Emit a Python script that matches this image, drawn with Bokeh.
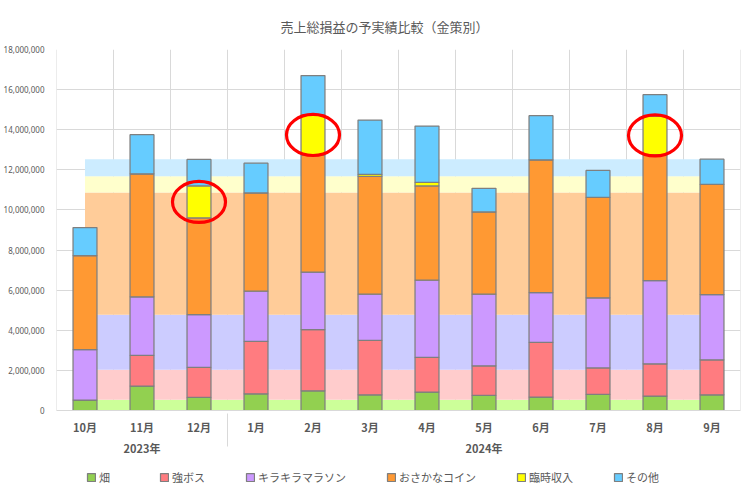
from bokeh.plotting import figure
from bokeh.layouts import column
from bokeh.models import (FactorRange, Range1d, ColumnDataSource, NumeralTickFormatter,
                          SingleIntervalTicker, Span, Legend, LegendItem)
from bokeh.embed import file_html
from bokeh.resources import INLINE

title = "売上総損益の予実績比較（金策別）"
years = ["2023年"] * 3 + ["2024年"] * 9
months = ["10月", "11月", "12月", "1月", "2月", "3月", "4月", "5月", "6月", "7月", "8月", "9月"]
series = ["畑", "強ボス", "キラキラマラソン", "おさかなコイン", "臨時収入", "その他"]

hatake   = [520000, 1220000, 650000, 830000, 980000, 780000, 920000, 750000, 670000, 800000, 720000, 780000]
kyoboss  = [0, 1530000, 1500000, 2620000, 3050000, 2720000, 1730000, 1480000, 2730000, 1320000, 1610000, 1750000]
kirakira = [2510000, 2920000, 2630000, 2500000, 2870000, 2300000, 3850000, 3570000, 2480000, 3500000, 4140000, 3250000]
osakana  = [4690000, 6130000, 4820000, 4900000, 5850000, 5880000, 4700000, 4100000, 6620000, 5010000, 6280000, 5490000]
rinji    = [0, 0, 1600000, 0, 1980000, 90000, 170000, 0, 0, 0, 1930000, 0]
sonota   = [1400000, 1950000, 1320000, 1480000, 1970000, 2710000, 2810000, 1180000, 2200000, 1340000, 1070000, 1260000]

# plan (予算) per series, same every month
plan = [530000, 1500000, 2740000, 6100000, 810000, 850000]

highlight = ["12月", "2月", "8月"]

bar_colors = ["#92D050", "#FF7C80", "#CC99FF", "#FF9933", "#FFFF00", "#66CCFF"]
plan_colors = ["#CCFF99", "#FFCCCC", "#CCCCFF", "#FFCC99", "#FFFFCC", "#CCECFF"]

TXT = "#595959"
GRID = "#D9D9D9"
EDGE = "#7F7F7F"
JP = "Noto Sans CJK JP"

x = list(zip(years, months))
actual = [hatake, kyoboss, kirakira, osakana, rinji, sonota]
data = {"x": x}
for name, vals in zip(series, actual):
    data[name] = vals
plan_cols = []
for i, v in enumerate(plan):
    col = "plan_%d" % i
    plan_cols.append(col)
    data[col] = [v] * len(months)
src = ColumnDataSource(data)

p = figure(frame_width=684, frame_height=361,
           x_range=FactorRange(factors=x, factor_padding=0, group_padding=0, range_padding=0),
           y_range=Range1d(0, 18000000),
           output_backend="svg", toolbar_location=None, title=title,
           min_border_left=48, min_border_right=2, min_border_top=48, min_border_bottom=55)
p.outline_line_color = None

p.title.align = "left"
p.title.offset = 224
p.title.standoff = 28
p.title.text_font = JP
p.title.text_font_size = "13px"
p.title.text_font_style = "normal"
p.title.text_color = TXT

# gridlines
p.xgrid.visible = False
p.ygrid.grid_line_color = GRID
p.ygrid.ticker = SingleIntervalTicker(interval=2000000)
for i in range(len(months) + 1):
    p.add_layout(Span(location=i, dimension="height", line_color=GRID, line_width=1, level="underlay"))

# plan bands
p.varea_stack(stackers=plan_cols, x="x", color=plan_colors, source=src)

# actual bars
p.vbar_stack(stackers=series, x="x", width=0.42, color=bar_colors,
             line_color=EDGE, line_width=1.25, source=src)

# highlight ellipses around 臨時収入
base = [a + b + c + d for a, b, c, d in zip(hatake, kyoboss, kirakira, osakana)]
ex, ey = [], []
for i, m in enumerate(months):
    if m in highlight:
        ex.append(x[i])
        ey.append(base[i] + rinji[i] / 2)
p.ellipse(x=ex, y=ey, width=0.93, height=2050000, fill_color=None,
          line_color="#FF0000", line_width=3.2)

# axes
xa = p.xaxis[0]
xa.axis_line_color = GRID
xa.major_tick_line_color = None
xa.minor_tick_line_color = None
xa.major_label_text_font = JP
xa.major_label_text_font_size = "11px"
xa.major_label_text_font_style = "bold"
xa.major_label_text_color = TXT
xa.major_label_standoff = 2
xa.group_text_font = JP
xa.group_text_font_size = "11px"
xa.group_text_font_style = "bold"
xa.group_text_color = TXT
xa.separator_line_color = GRID
xa.separator_line_width = 1

ya = p.yaxis[0]
ya.axis_line_color = None
ya.major_tick_line_color = None
ya.minor_tick_line_color = None
ya.ticker = SingleIntervalTicker(interval=2000000)
ya.formatter = NumeralTickFormatter(format="0,0")
ya.major_label_text_font = "Noto Sans"
ya.major_label_text_font_size = "8px"
ya.major_label_text_color = TXT
ya.major_label_standoff = 6

# legend strip below the chart (swatch-only renderers, kept outside the strip's range)
lf = figure(width=734, height=22, output_backend="svg", toolbar_location=None,
            x_range=Range1d(0, 1), y_range=Range1d(0, 1),
            x_axis_location=None, y_axis_location=None,
            min_border=0)
lf.outline_line_color = None
lf.grid.visible = False
items = []
for name, c in zip(series, bar_colors):
    r = lf.vbar(x=[-1], top=[0], bottom=[0], width=0.5, fill_color=c,
                line_color=EDGE, line_width=1.25)
    items.append(LegendItem(label=name, renderers=[r]))
legend = Legend(items=items, orientation="horizontal", location=(30, 2),
                label_text_font=JP, label_text_font_size="11px", label_text_color=TXT,
                glyph_width=10, glyph_height=10, spacing=40, label_standoff=3,
                border_line_color=None, background_fill_alpha=0, margin=0, padding=2)
lf.add_layout(legend)

layout = column(p, lf, spacing=0)
open("out.html", "w").write(file_html(layout, INLINE))
